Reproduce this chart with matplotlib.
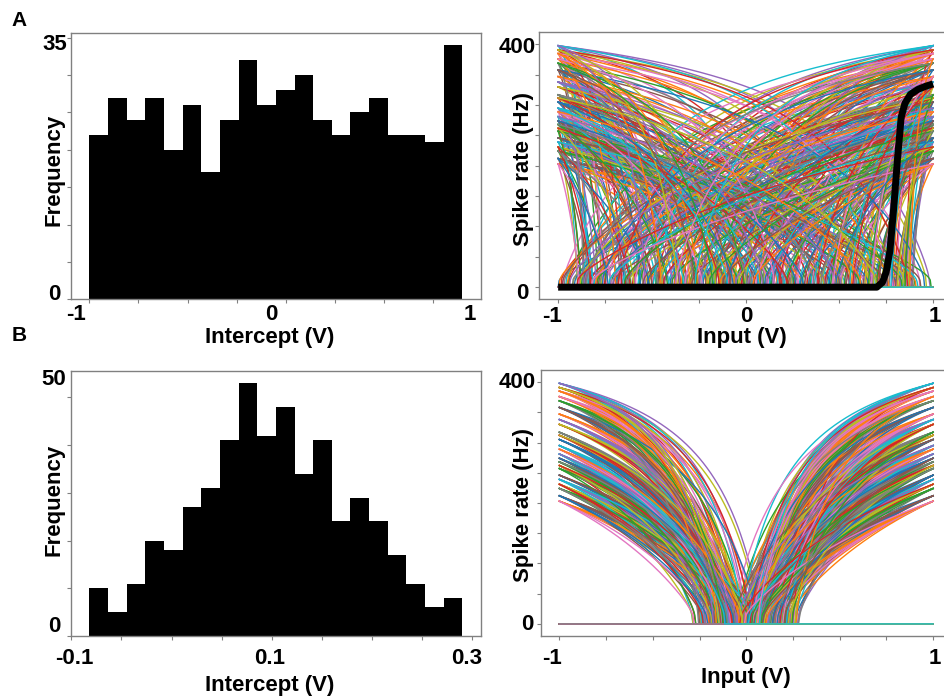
import numpy as np
import matplotlib
matplotlib.use('Agg')
import matplotlib.pyplot as plt

# intercept histograms, 20 bins each
A_COUNTS = [22, 27, 24, 27, 20, 26, 17, 24, 32, 26, 28, 30, 24, 22, 25, 27, 22, 22, 21, 34]
A_RANGE = (-1.0, 0.9)
B_COUNTS = [10, 5, 11, 20, 18, 27, 31, 41, 53, 42, 48, 34, 41, 24, 29, 24, 17, 11, 6, 8]
B_RANGE = (-0.082, 0.29)

# neuron max rates (Hz) and encoder signs, assigned in turn to the neurons
MAX_RATES = [212, 347, 268, 391, 239, 305, 376, 224, 330, 281, 358, 203, 317,
             262, 398, 246, 289, 369, 231, 338, 274, 385, 257, 312, 295]
ENCODERS = [1, -1, -1, 1, -1, 1, 1]

# thick black curve in panel A (right)
CURVE_X = [-1.0, 0.70, 0.73, 0.75, 0.77, 0.79, 0.81, 0.83, 0.85, 0.88, 0.92, 0.96, 1.0]
CURVE_Y = [0, 0, 8, 25, 60, 130, 210, 280, 303, 318, 326, 331, 335]

TAU_RC, TAU_REF = 0.02, 0.002
GRAY = '#808080'
FONT = 'Liberation Sans'
plt.rcParams.update({'font.family': FONT, 'font.weight': 'bold', 'figure.dpi': 100})


def intercepts_from(counts, rng):
    edges = np.linspace(rng[0], rng[1], len(counts) + 1)
    w = edges[1] - edges[0]
    vals = []
    for lo, n in zip(edges[:-1], counts):
        vals += [lo + (k + 0.5) / n * w for k in range(n)]
    vals = np.array(vals)
    order = (np.arange(len(vals)) * 211) % len(vals)
    return vals[order]


def lif_curves(intercepts, x):
    n = len(intercepts)
    rates = np.array([MAX_RATES[i % len(MAX_RATES)] for i in range(n)], float)
    enc = np.array([ENCODERS[i % len(ENCODERS)] for i in range(n)], float)
    z = 1.0 / (1.0 - np.exp((TAU_REF - 1.0 / rates) / TAU_RC))
    gain = (1.0 - z) / (intercepts - 1.0)
    bias = 1.0 - gain * intercepts
    J = gain[None, :] * (x[:, None] * enc[None, :]) + bias[None, :]
    out = np.zeros_like(J)
    m = J > 1
    out[m] = 1.0 / (TAU_REF + TAU_RC * np.log1p(1.0 / (J[m] - 1.0)))
    return out


def style(ax):
    for sp in ax.spines.values():
        sp.set_color(GRAY)
        sp.set_linewidth(1.0)
    ax.tick_params(direction='out', length=3, width=0.8, color=GRAY,
                   labelbottom=False, labelleft=False)


W, H = 944, 700
fig = plt.figure(figsize=(W / 100, H / 100))


def px_axes(l, t, r, b):
    return fig.add_axes([l / W, 1 - b / H, (r - l) / W, (b - t) / H])


def label(x, y, s, size=16, rot=0):
    fig.text(x / W, 1 - y / H, s, ha='center', va='center', fontsize=size,
             fontweight='bold', rotation=rot)


x = np.linspace(-1, 1, 401)

# A left: histogram
ax = px_axes(70.7, 32.5, 481, 299.3)
edges = np.linspace(A_RANGE[0], A_RANGE[1], len(A_COUNTS) + 1)
ax.hist(edges[:-1], bins=edges, weights=A_COUNTS, color='black')
ax.set_xticks(np.arange(-1, 0.76, 0.25))
ax.set_yticks(np.arange(0, 36, 5))
style(ax)

# A right: tuning curves
ax = px_axes(539.4, 32.3, 951.8, 299.3)
ax.plot(x, lif_curves(intercepts_from(A_COUNTS, A_RANGE), x), lw=1.0)
ax.plot(CURVE_X, CURVE_Y, color='black', lw=5, solid_capstyle='butt',
        solid_joinstyle='round')
ax.set_xlim(-1.1, 1.1)
ax.set_ylim(-20, 420)
ax.set_xticks(np.arange(-1, 1.01, 0.25))
ax.set_yticks(np.arange(0, 401, 50))
style(ax)

# B left: histogram
ax = px_axes(70.7, 370.5, 481, 636)
edges = np.linspace(B_RANGE[0], B_RANGE[1], len(B_COUNTS) + 1)
ax.hist(edges[:-1], bins=edges, weights=B_COUNTS, color='black')
ax.set_xticks(np.arange(-0.1, 0.301, 0.05))
ax.set_yticks(np.arange(0, 51, 10))
style(ax)

# B right: tuning curves
ax = px_axes(540.7, 370, 951.8, 636)
ax.plot(x, lif_curves(intercepts_from(B_COUNTS, B_RANGE), x), lw=1.0)
ax.set_xlim(-1.1, 1.1)
ax.set_ylim(-20, 420)
ax.set_xticks(np.arange(-1, 1.01, 0.25))
ax.set_yticks(np.arange(0, 401, 50))
style(ax)

# tick labels and axis titles
label(19, 20, 'A', 15)
label(19, 335, 'B', 15)
for s, px, py in [('35', 54.5, 44.5), ('0', 54, 294.5), ('-1', 76, 315),
                  ('0', 271.7, 315), ('1', 470, 315),
                  ('400', 517, 47.5), ('0', 522.5, 294), ('-1', 552, 316),
                  ('0', 746, 316), ('1', 935, 316),
                  ('50', 53.5, 379), ('0', 54, 626), ('-0.1', 74, 659),
                  ('0.1', 270, 659), ('0.3', 467, 659),
                  ('400', 517, 382.5), ('0', 527, 625), ('-1', 552, 658),
                  ('0', 746, 658), ('1', 935, 658)]:
    label(px, py, s)
label(54, 170, 'Frequency', rot=90)
label(270, 337, 'Intercept (V)')
label(524, 169, 'Spike rate (Hz)', rot=90)
label(742, 337, 'Input (V)')
label(54, 500, 'Frequency', rot=90)
label(270, 686, 'Intercept (V)')
label(523, 505, 'Spike rate (Hz)', rot=90)
label(746, 678, 'Input (V)')

fig.savefig('out.png', dpi=100)
